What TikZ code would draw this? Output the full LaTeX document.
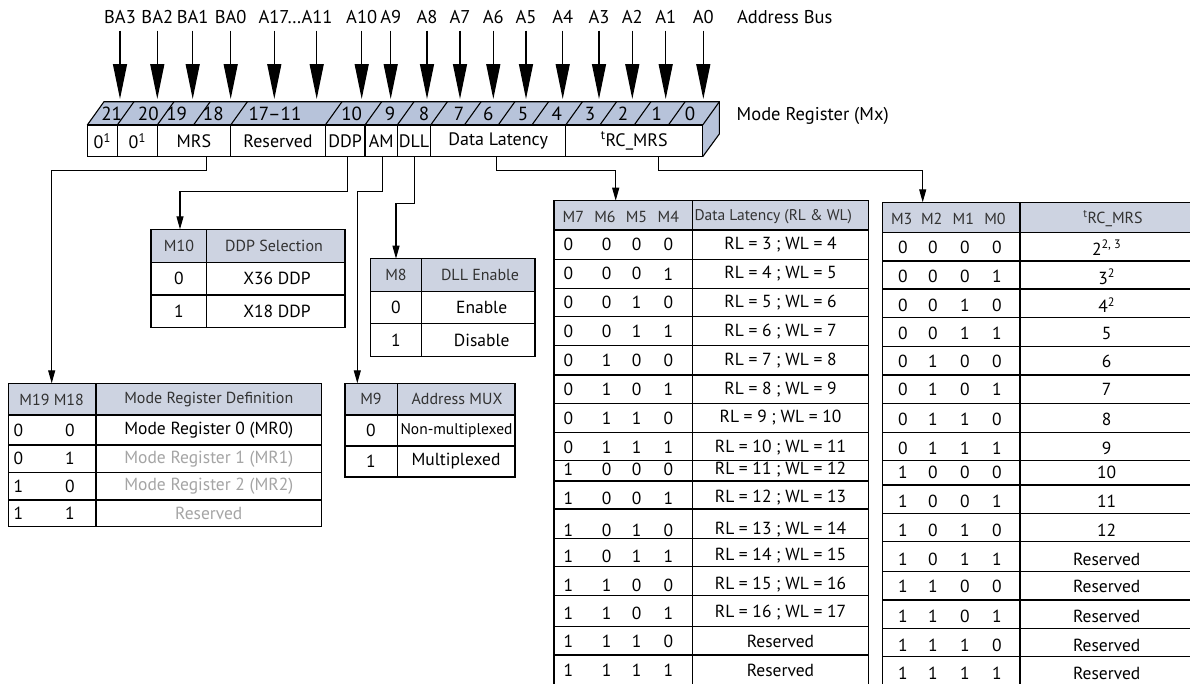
\documentclass[tikz,border=0pt]{standalone}
\usepackage{fontspec}
\setmainfont{PT Sans}
\usetikzlibrary{arrows.meta}
\definecolor{bandc}{RGB}{183,195,218}
\definecolor{hdrc}{RGB}{205,211,225}
\definecolor{greyt}{RGB}{165,165,165}
\definecolor{hdt}{RGB}{50,50,50}
\begin{document}
\begin{tikzpicture}[x=1pt,y=-1pt,
  every node/.style={inner sep=0pt, outer sep=0pt},
  lbl/.style={font=\fontsize{18.5}{20}\selectfont},
  bnum/.style={font=\fontsize{19}{20}\selectfont},
  hdr/.style={font=\fontsize{16}{18}\selectfont, text=hdt},
  cell/.style={font=\fontsize{17.5}{19}\selectfont},
  gcell/.style={cell, text=greyt},
  tline/.style={line width=1.1pt},
  field/.style={draw, line width=1.1pt, fill=white, minimum height=31.7pt, font=\fontsize{18}{20}\selectfont},
  busarrow/.style={line width=1.3pt, -{Triangle[length=35pt,width=14pt]}},
  conn/.style={line width=1.1pt, -{Triangle[length=13pt,width=7pt]}},
  plain/.style={line width=1.1pt}
]
\clip (0,0) rectangle (1190,683);
\fill[white] (0,0) rectangle (1190,683);

% ---------------- register ----------------
\fill[bandc] (87.3,125) -- (104,101.7) -- (719.3,101.7) -- (702.7,125) -- cycle;
\fill[bandc] (702.7,125) -- (719.3,101.7) -- (719.3,134) -- (702.7,156.7) -- cycle;
\draw[plain, line join=miter] (87.3,125) -- (104,101.7) -- (719.3,101.7) -- (719.3,134) -- (702.7,156.7);
\foreach \b in {117.3,157.3,193.5,230.7,325.3,365,397.3,430.7,464.4,498.2,531.9,565.7,599.9,634.2,668.4,702.7}
  \draw[plain] (\b,125) -- ({\b+16.7},101.7);

\node[field, minimum width=30pt]   (f21) at (102.3,140.85) {0\textsuperscript{1}};
\node[field, minimum width=40pt]   (f20) at (137.3,140.85) {0\textsuperscript{1}};
\node[field, minimum width=73.4pt] (mrs) at (194,140.85) {MRS};
\node[field, minimum width=94.6pt] (res) at (278,140.85) {Reserved};
\node[field, minimum width=39.7pt] (ddp) at (345.15,140.85) {DDP};
\node[field, minimum width=32.3pt] (am)  at (381.15,140.85) {AM};
\node[field, minimum width=33.4pt] (dll) at (414,140.85) {DLL};
\node[field, minimum width=135pt]  (dl)  at (498.2,140.85) {Data Latency};
\node[field, minimum width=137pt]  (trc) at (634.2,140.85) {\textsuperscript{t}RC\_MRS};

\foreach \x/\t [count=\i] in {111.7/21,148.3/20,176.7/19,213.3/18,275/17--11,351.7/10,390/9,424/8,459/7,488.3/6,523/5,556.7/4,590/3,623/2,656.7/1,690/0}
  \node[bnum] (bn\i) at (\x,113.5) {\t};

% ---------------- address bus ----------------
\foreach \x/\t [count=\i] in {120/BA3,157.3/BA2,192.7/BA1,230.7/BA0,295.5/A17…A11,361.7/A10,390.7/A9,427/A8,460/A7,493.3/A6,526/A5,562.7/A4,599/A3,632.3/A2,665.7/A1,703.3/A0}
  \node[lbl] (bl\i) at (\x,16.7) {\t};
\foreach \x [count=\i] in {120,157.3,192.7,230.7,274.3,316.7,361.7,390.7,427,460,493.3,526,562.7,599,632.3,665.7,703.3} {
  \coordinate (bs\i) at (\x,30.7);
  \coordinate (be\i) at (\x,99);
  \draw[busarrow] (bs\i) -- (be\i);
}
\node[lbl, anchor=west] (abus) at (737,16.7) {Address Bus};
\node[lbl, anchor=west] (mreg) at (736.7,115.5) {Mode Register (Mx)};

% ---------------- M19/M18 table ----------------
\fill[hdrc] (8.3,383.3) rectangle (321.7,415);
\draw[tline] (8.3,383.3) rectangle (321.7,526.7);
\draw[tline] (96,383.3) -- (96,526.7);
\foreach \y in {415,445,472.3,500} \draw[tline] (8.3,\y) -- (321.7,\y);
\coordinate (m19in) at (51.7,383.3);
\node[hdr] (m19a) at (51.7,399.5) {M19 M18};
\node[hdr] (m19b) at (208.8,399.5) {Mode Register Definition};
\foreach \yy/\a/\b/\t/\s [count=\i] in {430/0/0/Mode Register 0 (MR0)/cell, 458.7/0/1/Mode Register 1 (MR1)/gcell, 486.2/1/0/Mode Register 2 (MR2)/gcell, 513.3/1/1/Reserved/gcell} {
  \node[cell] (m19r\i a) at (18.3,\yy) {\a};
  \node[cell] (m19r\i b) at (70,\yy) {\b};
  \node[\s] (m19r\i c) at (208.8,\yy) {\t};
}

% ---------------- M10 table ----------------
\fill[hdrc] (151,229.3) rectangle (345,262.7);
\draw[tline] (151,229.3) rectangle (345,327.7);
\draw[tline] (206.7,229.3) -- (206.7,327.7);
\foreach \y in {262.7,295} \draw[tline] (151,\y) -- (345,\y);
\coordinate (m10in) at (180,229.3);
\node[hdr] (m10a) at (179,246) {M10};
\node[hdr] (m10b) at (274,246) {DDP Selection};
\node[cell] (m10r1a) at (179,278.8) {0};
\node[cell] (m10r1b) at (277,278.8) {X36 DDP};
\node[cell] (m10r2a) at (179,311.3) {1};
\node[cell] (m10r2b) at (277,311.3) {X18 DDP};

% ---------------- M8 table ----------------
\fill[hdrc] (370.7,258.7) rectangle (535,291.7);
\draw[tline] (370.7,258.7) rectangle (535,356.7);
\draw[tline] (421.7,258.7) -- (421.7,356.7);
\foreach \y in {291.7,323.3} \draw[tline] (370.7,\y) -- (535,\y);
\coordinate (m8in) at (396,258.7);
\node[hdr] (m8a) at (396,275.2) {M8};
\node[hdr] (m8b) at (480,275.2) {DLL Enable};
\node[cell] (m8r1a) at (396,307.5) {0};
\node[cell] (m8r1b) at (481.7,307.5) {Enable};
\node[cell] (m8r2a) at (396,340) {1};
\node[cell] (m8r2b) at (481.7,340) {Disable};

% ---------------- M9 table ----------------
\fill[hdrc] (345,383.3) rectangle (515,415);
\draw[tline] (345,383.3) rectangle (515,477);
\draw[tline] (397.3,383.3) -- (397.3,477);
\foreach \y in {415,446} \draw[tline] (345,\y) -- (515,\y);
\coordinate (m9in) at (357.3,383.3);
\node[hdr] (m9a) at (371,399.2) {M9};
\node[hdr] (m9b) at (457,399.2) {Address MUX};
\node[cell] (m9r1a) at (371,430.5) {0};
\node[cell, font=\fontsize{15.5}{17}\selectfont] (m9r1b) at (456.5,430.5) {Non-multiplexed};
\node[cell] (m9r2a) at (371,461.5) {1};
\node[cell] (m9r2b) at (456,461.5) {Multiplexed};

% ---------------- Data latency table ----------------
\fill[hdrc] (554,200.7) rectangle (868.5,230);
\draw[tline] (554,690) -- (554,200.7) -- (868.5,200.7) -- (868.5,690);
\draw[tline] (692.3,200.7) -- (692.3,690);
\foreach \y in {230,259.3,288.3,316.7,345.7,375,403.3,432.7,460.7,481,509,538.3,566.7,595.7,626.7,655}
  \draw[tline] (554,\y) -- (868.5,\y);
\coordinate (dlin) at (615.7,200.7);
\node[hdr] (dlh1) at (573.3,217) {M7};
\node[hdr] (dlh2) at (605,217) {M6};
\node[hdr] (dlh3) at (636.5,217) {M5};
\node[hdr] (dlh4) at (668.3,217) {M4};
\node[hdr, anchor=west, font=\fontsize{15.5}{17}\selectfont] (dlh5) at (694.5,217) {Data Latency (RL \& WL)};
\foreach \yy/\a/\b/\c/\d/\t [count=\i] in {
 244.7/0/0/0/0/RL = 3 ; WL = 4,
 273.8/0/0/0/1/RL = 4 ; WL = 5,
 302.5/0/0/1/0/RL = 5 ; WL = 6,
 331.2/0/0/1/1/RL = 6 ; WL = 7,
 360.3/0/1/0/0/RL = 7 ; WL = 8,
 389.2/0/1/0/1/RL = 8 ; WL = 9,
 418/0/1/1/0/RL = 9 ; WL = 10,
 447.3/0/1/1/1/RL = 10 ; WL = 11,
 469.5/1/0/0/0/RL = 11 ; WL = 12,
 498/1/0/0/1/RL = 12 ; WL = 13,
 530/1/0/1/0/RL = 13 ; WL = 14,
 556/1/0/1/1/RL = 14 ; WL = 15,
 585/1/1/0/0/RL = 15 ; WL = 16,
 613/1/1/0/1/RL = 16 ; WL = 17,
 641.5/1/1/1/0/Reserved,
 670.5/1/1/1/1/Reserved} {
  \node[cell] (dlr\i a) at (568.3,\yy) {\a};
  \node[cell] (dlr\i b) at (606.7,\yy) {\b};
  \node[cell] (dlr\i c) at (636.7,\yy) {\c};
  \node[cell] (dlr\i d) at (668.3,\yy) {\d};
  \node[cell] (dlr\i e) at (780.5,\yy) {\t};
}

% ---------------- tRC_MRS table ----------------
\fill[hdrc] (882.7,202.3) rectangle (1193,232.3);
\draw[tline] (882.7,690) -- (882.7,202.3) -- (1193,202.3) -- (1193,690);
\draw[tline] (1020,202.3) -- (1020,690);
\foreach \y in {232.3,261,289,317.7,346.7,375,403.3,432.7,460.7,485,513.3,541.7,571.7,600,628.3,656.7}
  \draw[tline] (882.7,\y) -- (1193,\y);
\coordinate (trcin) at (922.7,202.3);
\node[hdr] (th1) at (901.7,219) {M3};
\node[hdr] (th2) at (931.7,219) {M2};
\node[hdr] (th3) at (963.3,219) {M1};
\node[hdr] (th4) at (995,219) {M0};
\node[hdr] (th5) at (1113,219) {\textsuperscript{t}RC\_MRS};
\foreach \yy/\a/\b/\c/\d/\t [count=\i] in {
 247.7/0/0/0/0/{2\textsuperscript{2, 3}},
 276.7/0/0/0/1/{3\textsuperscript{2}},
 305/0/0/1/0/{4\textsuperscript{2}},
 333.3/0/0/1/1/5,
 361.7/0/1/0/0/6,
 389.5/0/1/0/1/7,
 419.3/0/1/1/0/8,
 448.3/0/1/1/1/9,
 472.7/1/0/0/0/10,
 501.7/1/0/0/1/11,
 530/1/0/1/0/12,
 559.3/1/0/1/1/Reserved,
 586.7/1/1/0/0/Reserved,
 616/1/1/0/1/Reserved,
 645/1/1/1/0/Reserved,
 673.3/1/1/1/1/Reserved} {
  \node[cell] (tr\i a) at (903,\yy) {\a};
  \node[cell] (tr\i b) at (933,\yy) {\b};
  \node[cell] (tr\i c) at (965,\yy) {\c};
  \node[cell] (tr\i d) at (997,\yy) {\d};
  \node[cell] (tr\i e) at (1106.7,\yy) {\t};
}

% ---------------- connectors ----------------
\draw[conn] ([xshift=12.7pt]mrs.south) -- ++(0,14) -| (m19in);
\draw[conn] ([xshift=2.2pt]ddp.south) -- ++(0,35) -| (m10in);
\draw[conn] ([xshift=1.5pt]am.south) -- ++(0,35) -| (m9in);
\draw[conn] ([xshift=0.3pt]dll.south) -- ++(0,46.6) -| (m8in);
\draw[conn] ([xshift=-1.5pt]dl.south) -- ++(0,14) -| (dlin);
\draw[conn] ([xshift=24pt]trc.south) -- ++(0,14) -| (trcin);
\end{tikzpicture}
\end{document}
